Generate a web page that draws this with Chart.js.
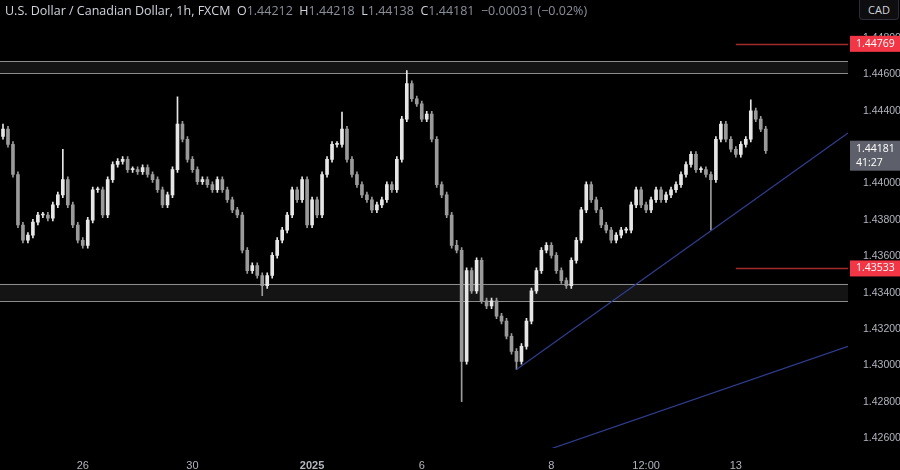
<!DOCTYPE html>
<html><head><meta charset="utf-8">
<script src="https://cdn.jsdelivr.net/npm/chart.js@4"></script>
<style>
html,body{margin:0;padding:0;background:#000;width:900px;height:470px;overflow:hidden;font-family:"Open Sans","DejaVu Sans",sans-serif}
#wrap{position:absolute;left:0;top:0;width:900px;height:470px}
#hdr{position:absolute;left:5px;top:2px;color:#d1d4dc;font-size:12.5px;white-space:nowrap}
#hdr .v{color:#8a8f9a}
#cad{position:absolute;left:859px;top:0px;width:38px;height:19px;border:1px solid #2a2e39;border-top:none;border-radius:0 0 4px 4px;background:#0e0e10;color:#d1d4dc;font-size:11px;text-align:center;line-height:19px}
</style></head><body>
<div id="wrap"><canvas id="c" width="900" height="470"></canvas></div>
<div id="hdr">U.S. Dollar / Canadian Dollar, 1h, FXCM&nbsp;&nbsp;O<span class="v">1.44212</span>&nbsp;&nbsp;H<span class="v">1.44218</span>&nbsp;&nbsp;L<span class="v">1.44138</span>&nbsp;&nbsp;C<span class="v">1.44181</span>&nbsp;&nbsp;<span class="v">−0.00031 (−0.02%)</span></div>
<div id="cad">CAD</div>
<script>
const closes = [1.4430,1.44216,1.4405,1.43772,1.43688,1.43716,1.43788,1.43827,1.43827,1.4381,
1.43883,1.43938,1.44022,1.43883,1.43772,1.43688,1.4366,1.43799,1.43966,1.43966,
1.43827,1.44022,1.44105,1.44122,1.44133,1.44077,1.44077,1.44066,1.44088,1.4405,
1.44022,1.43966,1.43883,1.43938,1.44077,1.44328,1.44244,1.44133,1.44077,1.44011,
1.44022,1.43994,1.43966,1.44022,1.43966,1.43911,1.43855,1.43827,1.43633,1.43521,
1.43549,1.43494,1.43438,1.43494,1.43605,1.43688,1.43744,1.43827,1.43966,1.43911,
1.44022,1.43772,1.43911,1.43827,1.4405,1.44133,1.44216,1.44216,1.4430,1.44133,
1.4405,1.43994,1.43938,1.43911,1.43855,1.43883,1.43911,1.43994,1.43966,1.44133,
1.44355,1.4455,1.44467,1.44439,1.44355,1.44383,1.44244,1.43994,1.43938,1.43827,
1.4366,1.43633,1.43021,1.43521,1.4341,1.43577,1.43355,1.43327,1.43355,1.43271,
1.43243,1.4316,1.43077,1.43021,1.43104,1.43243,1.4341,1.43521,1.43633,1.4366,
1.43605,1.43521,1.43466,1.43438,1.43577,1.43688,1.43855,1.43994,1.43911,1.43855,
1.43772,1.43744,1.43688,1.43716,1.43744,1.43744,1.43883,1.43966,1.43883,1.43855,
1.43911,1.43966,1.43911,1.43938,1.43966,1.43994,1.4405,1.44105,1.44161,1.44077,
1.44077,1.4405,1.44022,1.44244,1.44328,1.44244,1.44189,1.44161,1.44216,1.44244,
1.4440,1.44355,1.4430,1.44181];
const firstOpen = 1.4426;
const baseWick = 0.00015;
const wickHigh = {0:1.44328,12:1.44189,35:1.44478,68:1.44394,81:1.44622,91:1.43688,150:1.44461};
const wickLow = {52:1.43383,92:1.4280,103:1.42977,142:1.43744};
const tickValues = [1.426,1.428,1.430,1.432,1.434,1.436,1.438,1.440,1.442,1.444,1.446,1.448];
const slotCount = 170;
const dateLabels = {16:'26',38:'30',62:'2025',84:'6',110:'8',129:'12:00',147:'13'};
const zones = [[1.44606,1.44672],[1.43355,1.43449]];
const redLevels = [[1.44769,'1.44769',147],[1.43533,'1.43533',147]];
const trendLines = [[103,1.42977,169.5,1.44278],[109,1.42532,169.5,1.43104]];
const lastPrice = 1.44181, countdown = '41:27';

const labels = Array.from({length:slotCount},(_,i)=>i);
const opens = closes.map((c,i)=> i===0? firstOpen : closes[i-1]);
const bodies = closes.map((c,i)=>[opens[i],c]);
const wicks = closes.map((c,i)=>{
  const hi = wickHigh[i]!==undefined? wickHigh[i] : Math.max(opens[i],c)+baseWick;
  const lo = wickLow[i]!==undefined? wickLow[i] : Math.min(opens[i],c)-baseWick;
  return [lo,hi];
});
const cols = closes.map((c,i)=> c>=opens[i]? '#e6e6e6':'#9a9a9a');

const overlay = {
  id:'overlay',
  beforeDatasetsDraw(ch){
    const {ctx,chartArea:a,scales:{x,y}}=ch;
    ctx.save();
    zones.forEach(([lo,hi])=>{
      const y1=y.getPixelForValue(hi), y2=y.getPixelForValue(lo);
      ctx.fillStyle='#141414'; ctx.fillRect(0,y1,a.right,y2-y1);
      ctx.strokeStyle='#8c8c8c'; ctx.lineWidth=1;
      ctx.beginPath(); ctx.moveTo(0,Math.round(y1)+0.5); ctx.lineTo(a.right,Math.round(y1)+0.5);
      ctx.moveTo(0,Math.round(y2)+0.5); ctx.lineTo(a.right,Math.round(y2)+0.5); ctx.stroke();
    });
    ctx.restore();
  },
  afterDatasetsDraw(ch){
    const {ctx,chartArea:a,scales:{x,y}}=ch;
    ctx.save();
    ctx.beginPath(); ctx.rect(a.left,a.top,a.right-a.left,a.bottom-a.top); ctx.clip();
    const xp=v=>a.left+(v+0.5)*(a.right-a.left)/slotCount;
    ctx.strokeStyle='#2f3d8f'; ctx.lineWidth=1.2;
    trendLines.forEach(([i1,p1,i2,p2])=>{
      ctx.beginPath(); ctx.moveTo(xp(i1),y.getPixelForValue(p1)); ctx.lineTo(xp(i2),y.getPixelForValue(p2)); ctx.stroke();
    });
    ctx.strokeStyle='#a32a2a'; ctx.lineWidth=1.3;
    redLevels.forEach(([p,,i])=>{
      const yy=Math.round(y.getPixelForValue(p))+0.5;
      ctx.beginPath(); ctx.moveTo(xp(i),yy); ctx.lineTo(a.right,yy); ctx.stroke();
    });
    ctx.restore();
  },
  afterDraw(ch){
    const {ctx,chartArea:a,scales:{y}}=ch;
    ctx.save();
    ctx.font='10.5px "Open Sans", sans-serif'; ctx.textBaseline='middle'; ctx.textAlign='left';
    redLevels.forEach(([p,t])=>{
      const yy=y.getPixelForValue(p);
      ctx.fillStyle='#f23645'; ctx.fillRect(a.right+2,yy-8,52,16);
      ctx.fillStyle='#ffffff'; ctx.fillText(t,a.right+8,yy);
    });
    const yl=y.getPixelForValue(lastPrice);
    ctx.fillStyle='#5d606b'; ctx.fillRect(a.right+2,yl-10,52,30);
    ctx.fillStyle='#ffffff'; ctx.fillText(lastPrice.toFixed(5),a.right+8,yl-2);
    ctx.fillText(countdown,a.right+8,yl+12);
    ctx.restore();
  }
};

new Chart(document.getElementById('c'),{
  type:'bar',
  data:{labels,datasets:[
    {data:wicks,backgroundColor:cols,barThickness:1,grouped:false,order:2},
    {data:bodies,backgroundColor:cols,barThickness:3,grouped:false,order:1,minBarLength:1}
  ]},
  options:{
    responsive:false,animation:false,
    layout:{padding:{top:0,bottom:0,left:0,right:0}},
    plugins:{legend:{display:false},tooltip:{enabled:false}},
    scales:{
      x:{grid:{display:false},border:{display:false},
        ticks:{autoSkip:false,maxRotation:0,color:'#b2b5be',
          callback:(v)=>dateLabels[v]||'',
          font:(c)=>({size:11,weight: dateLabels[c.index]==='2025'?'bold':'normal'})},
        afterFit(s){s.height=22;}},
      y:{position:'right',min:1.42545,max:1.44937,grid:{display:false},border:{display:false},
        ticks:{color:'#b2b5be',font:{size:10.5},padding:7,callback:v=>v.toFixed(5)},
        afterBuildTicks(s){s.ticks=tickValues.map(v=>({value:v}));},
        afterFit(s){s.width=52;}}
    }
  },
  plugins:[overlay]
});
</script></body></html>
